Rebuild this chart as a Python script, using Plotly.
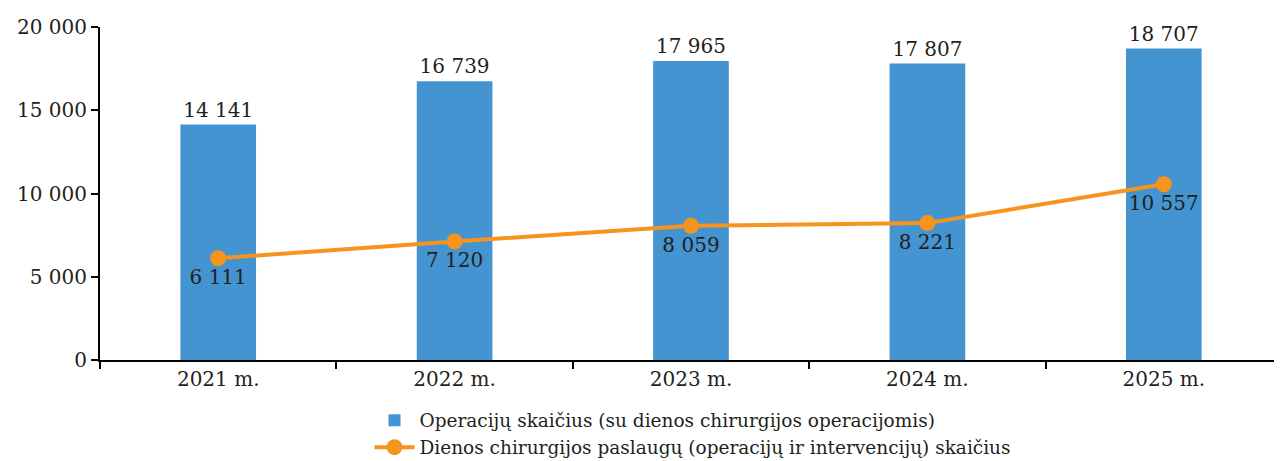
import plotly.graph_objects as go

years = ["2021 m.", "2022 m.", "2023 m.", "2024 m.", "2025 m."]
operations = [14141, 16739, 17965, 17807, 18707]
day_surgery = [6111, 7120, 8059, 8221, 10557]
y_ticks = [0, 5000, 10000, 15000, 20000]

FONT = "DejaVu Serif"
BLUE = "#4394D0"
ORANGE = "#F7941D"
TXT = "#231F20"

fig = go.Figure()
fig.add_trace(go.Bar(
    x=years, y=operations,
    name="Operacijų skaičius (su dienos chirurgijos operacijomis)",
    marker=dict(color=BLUE, line=dict(width=0)),
    width=0.32,
    texttemplate="%{y:,d}", textposition="outside",
    textfont=dict(family=FONT, size=20, color=TXT),
    cliponaxis=False,
))
fig.add_trace(go.Scatter(
    x=years, y=day_surgery,
    name="Dienos chirurgijos paslaugų (operacijų ir intervencijų) skaičius",
    mode="lines+markers+text",
    line=dict(color=ORANGE, width=4),
    marker=dict(color=ORANGE, size=16),
    texttemplate="%{y:,d}", textposition="bottom center",
    textfont=dict(family=FONT, size=20, color=TXT),
    cliponaxis=False,
))

fig.update_layout(
    width=1282, height=461,
    margin=dict(l=92, r=8, t=19, b=109, autoexpand=False),
    paper_bgcolor="white", plot_bgcolor="white",
    separators=", ",
    font=dict(family=FONT, size=20, color=TXT),
    showlegend=True,
    legend=dict(
        orientation="v", x=0.228, xanchor="left", y=-0.125, yanchor="top",
        font=dict(family=FONT, size=18.5, color=TXT),
        bgcolor="rgba(0,0,0,0)", itemwidth=40, tracegroupgap=0,
    ),
)
fig.update_xaxes(
    type="category", range=[-0.5, 4.5],
    showline=True, linecolor="black", linewidth=2,
    ticks="outside", tickson="boundaries", ticklen=7, tickwidth=2, tickcolor="black",
    tickfont=dict(family=FONT, size=20, color=TXT),
    showgrid=False,
)
fig.update_yaxes(
    range=[0, 20000], tickvals=y_ticks, tickformat=",d",
    showline=True, linecolor="black", linewidth=2,
    ticks="outside", ticklen=7, tickwidth=2, tickcolor="black",
    tickfont=dict(family=FONT, size=20, color=TXT),
    showgrid=False, zeroline=False,
)

fig.write_html("out.html")
